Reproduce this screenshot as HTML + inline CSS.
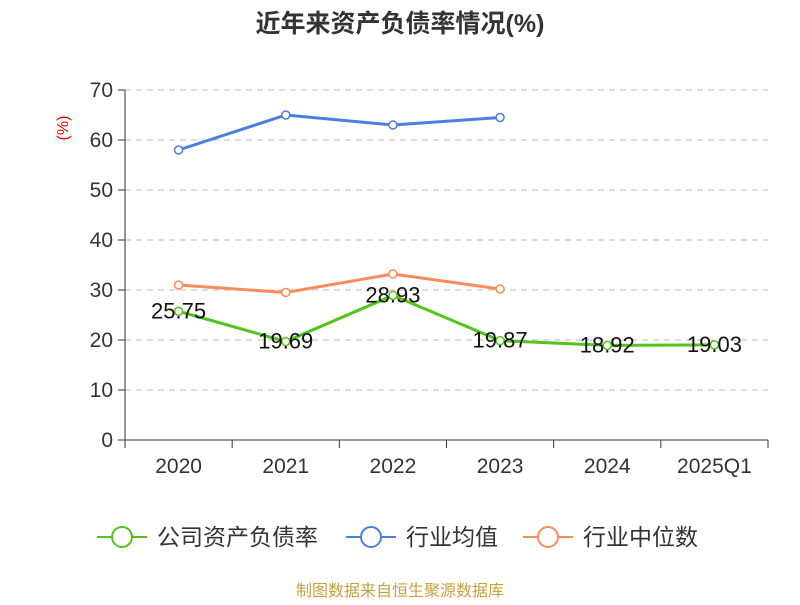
<!DOCTYPE html>
<html><head><meta charset="utf-8"><style>
body{margin:0;background:#fff;font-family:"Liberation Sans","Noto Sans CJK SC",sans-serif}
</style></head><body>
<svg width="800" height="600" xmlns="http://www.w3.org/2000/svg" font-family="Liberation Sans, Noto Sans CJK SC, sans-serif">
<text x="400" y="32" text-anchor="middle" font-size="25" font-weight="bold" fill="#333">近年来资产负债率情况(%)</text>
<text x="68" y="128" text-anchor="middle" font-size="16" fill="#e00" transform="rotate(-90 68 128)">(%)</text>
<g id="grid"></g><g id="axes"></g><g id="series"></g>
<g>
<g><line x1="97" y1="537" x2="147" y2="537" stroke="#52c41a" stroke-width="2"/><circle cx="122" cy="537" r="10" fill="#fff" stroke="#52c41a" stroke-width="2"/><text x="157" y="545" font-size="23" fill="#333">公司资产负债率</text></g>
<g><line x1="346" y1="537" x2="396" y2="537" stroke="#4a7fe0" stroke-width="2"/><circle cx="371" cy="537" r="10" fill="#fff" stroke="#4a7fe0" stroke-width="2"/><text x="406" y="545" font-size="23" fill="#333">行业均值</text></g>
<g><line x1="523" y1="537" x2="573" y2="537" stroke="#fa8c5a" stroke-width="2"/><circle cx="548" cy="537" r="10" fill="#fff" stroke="#fa8c5a" stroke-width="2"/><text x="583" y="545" font-size="23" fill="#333">行业中位数</text></g>
</g>
<text x="400" y="596" text-anchor="middle" font-size="16" fill="#c8a040">制图数据来自恒生聚源数据库</text>
</svg>
<script>
const categories=["2020","2021","2022","2023","2024","2025Q1"];
const companyValues=[25.75,19.69,28.93,19.87,18.92,19.03];
const avgValues=[58,65,63,64.5,null,null];
const medianValues=[31,29.5,33.2,30.2,null,null];
const yTicks=[0,10,20,30,40,50,60,70];
const NS="http://www.w3.org/2000/svg";
const x0=125,x1=768,y0=440,y1=90,yMax=70;
const bw=(x1-x0)/categories.length;
const xs=i=>x0+bw*(i+0.5);
const ys=v=>y0-(v/yMax)*(y0-y1);
function mk(tag,attrs,parent,txt){const e=document.createElementNS(NS,tag);for(const k in attrs)e.setAttribute(k,attrs[k]);if(txt!==undefined)e.textContent=txt;parent.appendChild(e);return e;}
const grid=document.getElementById('grid'),axes=document.getElementById('axes'),ser=document.getElementById('series');
yTicks.forEach(t=>{
 if(t>0){const g=mk('line',{x1:x0,x2:x1,y1:ys(t),y2:ys(t),stroke:'#bbb','stroke-dasharray':'6,5'},grid);
 
 }
 const tk=mk('line',{x1:x0-7,x2:x0,y1:ys(t),y2:ys(t),stroke:'#333'},axes);
 
 
 const l=mk('text',{x:x0-12,y:ys(t)+7,'text-anchor':'end','font-size':21,fill:'#333'},axes,t);
 
 
});
const ya=mk('line',{x1:x0,x2:x0,y1:y1,y2:y0,stroke:'#333'},axes);


const xa=mk('line',{x1:x0,x2:x1,y1:y0,y2:y0,stroke:'#333'},axes);


for(let i=0;i<=categories.length;i++){const t=mk('line',{x1:x0+bw*i,x2:x0+bw*i,y1:y0,y2:y0+8,stroke:'#333'},axes);
 
 }
categories.forEach((c,i)=>{const t=mk('text',{x:xs(i),y:473,'text-anchor':'middle','font-size':21,fill:'#333'},axes,c);
 
 });
function series(vals,color,name,labels){
 const g=mk('g',{},ser);
 
 
 const pts=[];vals.forEach((v,i)=>{if(v!=null)pts.push([xs(i),ys(v),v]);});
 const p=mk('polyline',{points:pts.map(p=>p[0]+','+p[1]).join(' '),fill:'none',stroke:color,'stroke-width':3},g);
 
 
 pts.forEach(q=>{const c=mk('circle',{cx:q[0],cy:q[1],r:4,fill:'#fff',stroke:color,'stroke-width':1.5},g);
  
  
  if(labels){const t=mk('text',{x:q[0],y:q[1]+7,'text-anchor':'middle','font-size':22,fill:'#111'},g,q[2].toFixed(2));
   
   }
 });
}
series(avgValues,'#4a7fe0','industry-avg-series',false);
series(medianValues,'#fa8c5a','industry-median-series',false);
series(companyValues,'#52c41a','company-series',true);
</script>
</body></html>
